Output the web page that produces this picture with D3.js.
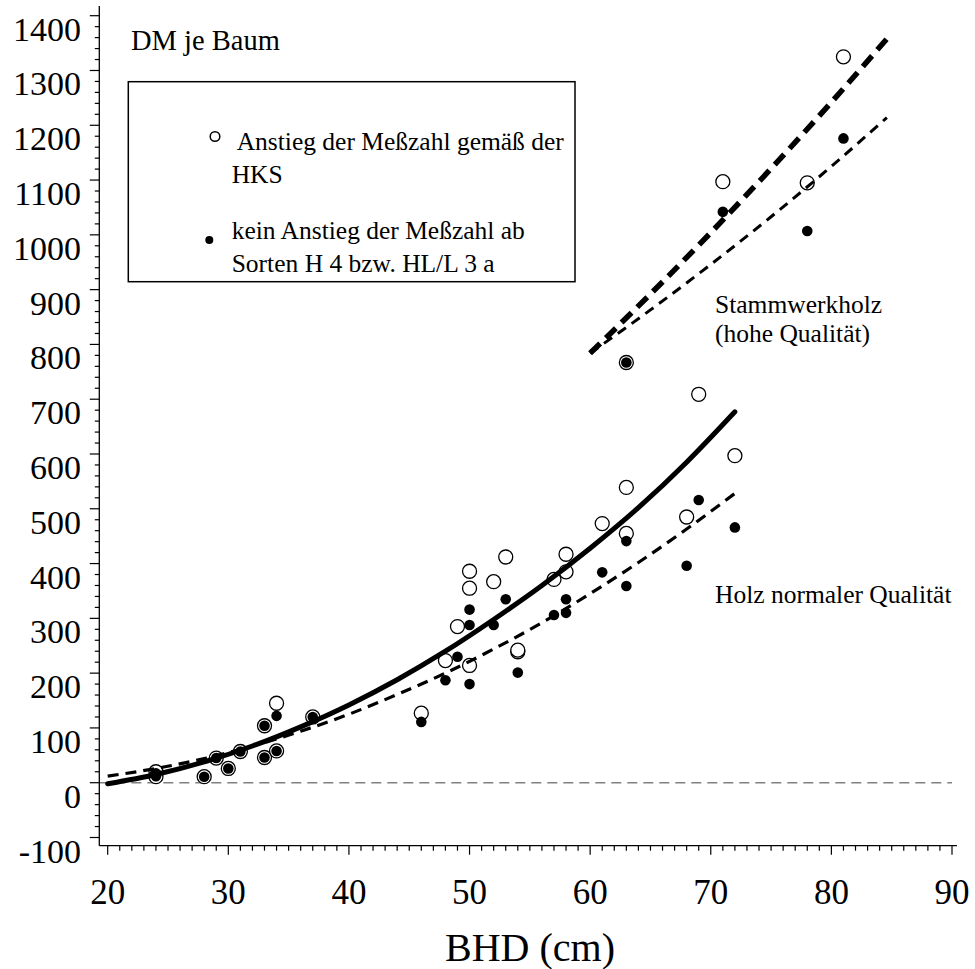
<!DOCTYPE html>
<html>
<head>
<meta charset="utf-8">
<script src="https://cdn.jsdelivr.net/npm/d3@7"></script>
<style>
  html, body { margin: 0; padding: 0; background: #fff; }
  svg { display: block; }
  text { font-family: "Liberation Serif", "Times New Roman", Times, serif; fill: #000; }
</style>
</head>
<body>
<div id="chart"></div>
<script>
// ---- Data ----
const xTicks = [20, 30, 40, 50, 60, 70, 80, 90];
const yTicks = [-100, 0, 100, 200, 300, 400, 500, 600, 700, 800, 900, 1000, 1100, 1200, 1300, 1400];

// open circles: "Anstieg der Meßzahl gemäß der HKS"
const openPoints = [
  [24, 20], [24, 11], [28, 11], [29, 45], [30, 26], [31, 57], [33, 104], [33, 46],
  [34, 145], [34, 58], [37, 120], [46, 127], [48, 223], [49, 285], [50, 386], [50, 355],
  [50, 214], [52, 367], [53, 412], [54, 239], [54, 242], [57, 371], [58, 417], [58, 385],
  [61, 473], [63, 539], [63, 455], [68, 485], [69, 709], [72, 597],
  [63, 767], [71, 1097], [78, 1095], [81, 1325]
];
// filled dots: "kein Anstieg der Meßzahl ab Sorten H 4 bzw. HL/L 3 a"
const filledPoints = [
  [24, 17], [24, 12], [28, 11], [29, 45], [30, 26], [31, 57], [33, 104], [33, 46],
  [34, 122], [34, 58], [37, 120], [46, 111], [48, 187], [49, 230], [50, 288], [50, 316],
  [50, 180], [52, 288], [53, 335], [54, 201], [57, 306], [58, 335], [58, 310], [61, 384],
  [63, 441], [63, 359], [68, 396], [69, 516], [72, 466],
  [63, 767], [71, 1042], [78, 1007], [81, 1176]
];

// fitted curves
const normalHKS = [[20, -2], [24, 15], [28, 38], [32, 67], [36, 102], [40, 142], [44, 188],
  [48, 240], [52, 298], [56, 360], [60, 428], [64, 502], [68, 585], [72, 677]];
const normalKein = [[20, 12], [24, 26], [28, 44], [32, 67], [36, 94], [40, 125], [44, 161],
  [48, 200], [52, 244], [56, 292], [60, 345], [64, 402], [68, 463], [72, 528]];
const stammHKS = [[60, 784], [65, 892], [70, 1004], [75, 1121], [80, 1242], [85, 1368]];
const stammKein = [[60, 784], [65, 863], [70, 946], [75, 1033], [80, 1125], [84.6, 1214]];

const legendItems = [
  { marker: "open", lines: [" Anstieg der Meßzahl gemäß der", "HKS"] },
  { marker: "filled", lines: ["kein Anstieg der Meßzahl ab", "Sorten H 4 bzw. HL/L 3 a"] }
];

// ---- Layout ----
const W = 975, H = 969;
const axisX = 99.3, axisY = 845.7;
const x = d3.scaleLinear().domain([20, 90]).range([107.7, 952]);
const y = d3.scaleLinear().domain([-100, 1400]).range([837.5, 15.7]);

const svg = d3.select("#chart").append("svg").attr("width", W).attr("height", H);

// zero reference line
svg.append("line")
  .attr("x1", axisX).attr("x2", x(90))
  .attr("y1", y(0)).attr("y2", y(0))
  .attr("stroke", "#808080").attr("stroke-width", 1.4)
  .attr("stroke-dasharray", "10,6");

// axes lines
svg.append("line").attr("x1", axisX).attr("x2", axisX).attr("y1", 6).attr("y2", axisY)
  .attr("stroke", "#000").attr("stroke-width", 1.3);
svg.append("line").attr("x1", axisX).attr("x2", 957).attr("y1", axisY).attr("y2", axisY)
  .attr("stroke", "#000").attr("stroke-width", 1.3);

// y ticks
const yMinor = d3.range(-100, 1401, 20);
svg.append("g").selectAll("line").data(yMinor).join("line")
  .attr("x1", d => (d % 100 === 0 ? axisX - 9.5 : axisX - 4.5)).attr("x2", axisX)
  .attr("y1", d => y(d)).attr("y2", d => y(d))
  .attr("stroke", "#000").attr("stroke-width", 1.2);
svg.append("g").selectAll("text").data(yTicks).join("text")
  .attr("x", 81).attr("y", d => y(d) + 25)
  .attr("text-anchor", "end").attr("font-size", 34)
  .text(d => d);

// x ticks
const xMinor = d3.range(20, 91, 1);
svg.append("g").selectAll("line").data(xMinor).join("line")
  .attr("x1", d => x(d)).attr("x2", d => x(d))
  .attr("y1", axisY).attr("y2", d => (d % 10 === 0 ? axisY + 9 : axisY + 5))
  .attr("stroke", "#000").attr("stroke-width", 1.2);
svg.append("g").selectAll("text").data(xTicks).join("text")
  .attr("x", d => x(d)).attr("y", 904)
  .attr("text-anchor", "middle").attr("font-size", 35)
  .text(d => d);

// axis titles
svg.append("text").attr("x", 530).attr("y", 961).attr("text-anchor", "middle")
  .attr("font-size", 40).text("BHD (cm)");
svg.append("text").attr("x", 131).attr("y", 50).attr("font-size", 28.5).text("DM je Baum");

// open circles (under the lines)
svg.append("g").selectAll("circle").data(openPoints).join("circle")
  .attr("cx", d => x(d[0])).attr("cy", d => y(d[1])).attr("r", 7)
  .attr("fill", "#fff").attr("stroke", "#000").attr("stroke-width", 1.3);

// curves
const line = d3.line().x(d => x(d[0])).y(d => y(d[1])).curve(d3.curveMonotoneX);
svg.append("path").attr("d", line(normalHKS)).attr("fill", "none")
  .attr("stroke", "#000").attr("stroke-width", 5).attr("stroke-linecap", "round");
svg.append("path").attr("d", line(normalKein)).attr("fill", "none")
  .attr("stroke", "#000").attr("stroke-width", 3.2).attr("stroke-dasharray", "11,7");
svg.append("path").attr("d", line(stammHKS)).attr("fill", "none")
  .attr("stroke", "#000").attr("stroke-width", 5.5).attr("stroke-dasharray", "14,8");
svg.append("path").attr("d", line(stammKein)).attr("fill", "none")
  .attr("stroke", "#000").attr("stroke-width", 3).attr("stroke-dasharray", "10,7");

// filled dots
svg.append("g").selectAll("circle").data(filledPoints).join("circle")
  .attr("cx", d => x(d[0])).attr("cy", d => y(d[1])).attr("r", 5.3)
  .attr("fill", "#000");

// curve labels
const lab = svg.append("g").attr("font-size", 25.5);
lab.append("text").attr("x", 715).attr("y", 313).text("Stammwerkholz");
lab.append("text").attr("x", 715).attr("y", 341.5).text("(hohe Qualität)");
lab.append("text").attr("x", 715).attr("y", 603).text("Holz normaler Qualität");

// legend
const leg = svg.append("g");
leg.append("rect").attr("x", 128.3).attr("y", 81.7).attr("width", 446.7).attr("height", 200)
  .attr("fill", "#fff").attr("stroke", "#000").attr("stroke-width", 1.5);
const legY = [150, 239.3];
legendItems.forEach((item, i) => {
  if (item.marker === "open") {
    leg.append("circle").attr("cx", 215).attr("cy", legY[i] - 13.5).attr("r", 4.8)
      .attr("fill", "#fff").attr("stroke", "#000").attr("stroke-width", 1.5);
  } else {
    leg.append("circle").attr("cx", 209.3).attr("cy", legY[i] + 0.7).attr("r", 4)
      .attr("fill", "#000");
  }
  item.lines.forEach((t, j) => {
    leg.append("text").attr("x", 231.7).attr("y", legY[i] + j * 33)
      .attr("font-size", 25.5).attr("xml:space", "preserve").style("white-space", "pre")
      .text(t);
  });
});
</script>
</body>
</html>
